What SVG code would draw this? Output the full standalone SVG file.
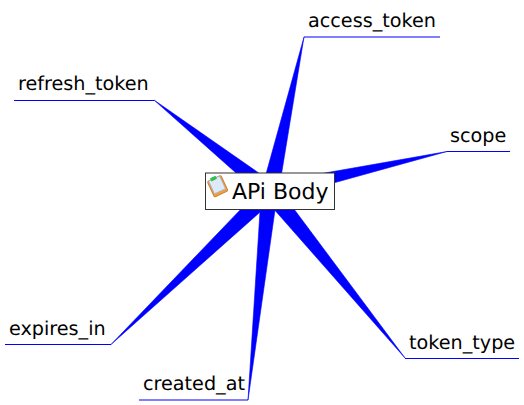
<svg xmlns="http://www.w3.org/2000/svg" width="524" height="405" viewBox="0 0 524 405">
<style>
.w{fill:#0000ff;stroke:#0000ff;stroke-width:.6;stroke-linejoin:round}
.u{stroke:#0000ff;stroke-width:1;fill:none}
text{font-family:"DejaVu Sans",sans-serif;fill:#000;text-rendering:geometricPrecision}
.l{font-size:19.2px}
</style>
<rect width="524" height="405" fill="#fff"/>
<g id="connectors">
<polygon class="w" points="304,37 261.300,191 278.700,191"/>
<polygon class="w" points="447,151.500 268,183 272,200"/>
<polygon class="w" points="154,100 264.600,198.400 275.400,184.600"/>
<polygon class="w" points="111,344.500 263.900,185.200 276.100,197.800"/>
<polygon class="w" points="248,400 261.300,191 277.700,191"/>
<polygon class="w" points="405,358 263.200,197 276.800,186"/>
<path class="u" d="M304 37H440"/>
<path class="u" d="M447 151.500H510"/>
<path class="u" d="M14 100.500H154"/>
<path class="u" d="M5 344.500H111"/>
<path class="u" d="M139 400H248"/>
<path class="u" d="M405 358.500H519"/>
</g>
<g id="node-access_token"><text class="l" x="308" y="27">access_token</text></g>
<g id="node-scope"><text class="l" x="450" y="142">scope</text></g>
<g id="node-refresh_token"><text class="l" x="18" y="90">refresh_token</text></g>
<g id="node-expires_in"><text class="l" x="9" y="335">expires_in</text></g>
<g id="node-created_at"><text class="l" x="143" y="390">created_at</text></g>
<g id="node-token_type"><text class="l" x="409" y="349">token_type</text></g>
<g id="node-root">
<rect x="205.500" y="173" width="129" height="36.500" fill="#fff" stroke="#333" stroke-width="1"/>
<g transform="rotate(-25 217 186)">
<rect x="210" y="178" width="15" height="17" rx="1.500" fill="#f0a040" stroke="#d08030"/>
<rect x="211.500" y="178" width="12" height="14" fill="#dfeaf8" stroke="#9ab0d0" stroke-width=".6"/>
<rect x="214" y="176" width="6" height="3.500" fill="#30c050"/>
</g>
<text x="232" y="199" font-size="22px">APi Body</text>
</g>
</svg>
